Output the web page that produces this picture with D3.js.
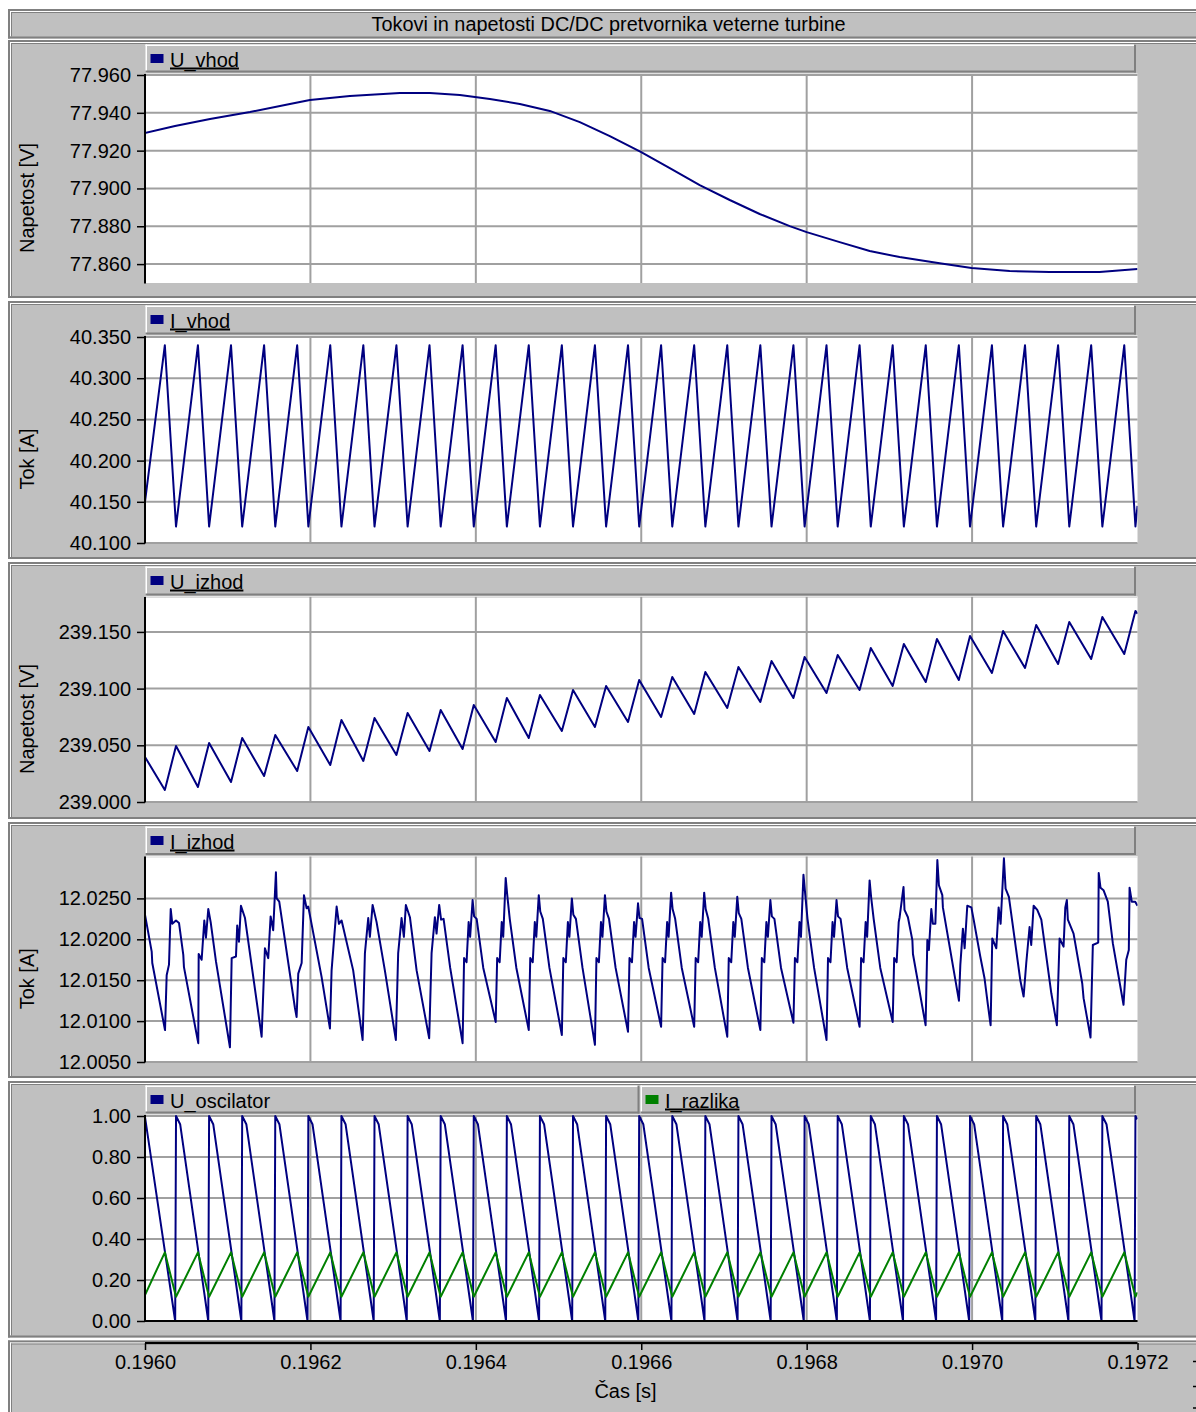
<!DOCTYPE html>
<html>
<head>
<meta charset="utf-8">
<script src="https://cdn.jsdelivr.net/npm/d3@7"></script>
<style>
  body { margin: 0; background: #ffffff; }
  svg { display: block; }
  text { font-family: "Liberation Sans", Arial, sans-serif; fill: #000; }
</style>
</head>
<body>
<svg id="chart" width="1196" height="1412"></svg>
<script>
// ---- time axis (seconds); sample times below are in microseconds after T0 ----
const T0 = 0.1960;
const timeTicks = [0.1960, 0.1962, 0.1964, 0.1966, 0.1968, 0.1970, 0.1972];

// ---- U_vhod (input voltage) ----
const uVhodUs = [0, 36.3, 78.6, 126.9, 175.2, 199.4, 247.7, 308.2, 344.4, 380.7, 417, 453.2, 489.4, 525.7, 562,
  599.4, 634.5, 670.7, 707, 743.2, 779.5, 800, 839.9, 876.2, 912.4, 960.8, 999.4, 1045.4, 1093.7, 1154.1, 1200];
const uVhodV = [77.9293, 77.9330, 77.9367, 77.9404, 77.9447, 77.9468, 77.9489, 77.9505, 77.9505, 77.9494, 77.9473,
  77.9447, 77.9410, 77.9351, 77.9277, 77.9193, 77.9108, 77.9018, 77.8939, 77.8865, 77.8801, 77.8769, 77.8716,
  77.8669, 77.8637, 77.8605, 77.8579, 77.8563, 77.8558, 77.8558, 77.8574];
const uVhodTicks = [77.86, 77.88, 77.90, 77.92, 77.94, 77.96];

// ---- switching instants shared by I_vhod, U_izhod and I_razlika ----
const switchUs = [0,
  24, 37.5, 64, 77.5, 104, 117.5, 144, 157.5, 184, 197.5,
  224, 237.5, 264, 277.5, 304, 317.5, 344, 357.5, 384, 397.5,
  424, 437.5, 464, 477.5, 504, 517.5, 544, 557.5, 584, 597.5,
  624, 637.5, 664, 677.5, 704, 717.5, 744, 757.5, 784, 797.5,
  824, 837.5, 864, 877.5, 904, 917.5, 944, 957.5, 984, 997.5,
  1024, 1037.5, 1064, 1077.5, 1104, 1117.5, 1144, 1157.5, 1184, 1197.5,
  1200];

// ---- I_vhod (input current) ----
const iVhodA = [40.150,
  40.340, 40.120, 40.340, 40.120, 40.340, 40.120, 40.340, 40.120, 40.340, 40.120,
  40.340, 40.120, 40.340, 40.120, 40.340, 40.120, 40.340, 40.120, 40.340, 40.120,
  40.340, 40.120, 40.340, 40.120, 40.340, 40.120, 40.340, 40.120, 40.340, 40.120,
  40.340, 40.120, 40.340, 40.120, 40.340, 40.120, 40.340, 40.120, 40.340, 40.120,
  40.340, 40.120, 40.340, 40.120, 40.340, 40.120, 40.340, 40.120, 40.340, 40.120,
  40.340, 40.120, 40.340, 40.120, 40.340, 40.120, 40.340, 40.120, 40.340, 40.120,
  40.145];
const iVhodTicks = [40.10, 40.15, 40.20, 40.25, 40.30, 40.35];

// ---- U_izhod (output voltage) ----
const uIzhodV = [239.0397,
  239.0106, 239.0494, 239.0132, 239.0520, 239.0176, 239.0564, 239.0229, 239.0591, 239.0273, 239.0662,
  239.0326, 239.0723, 239.0362, 239.0741, 239.0415, 239.0785, 239.0450, 239.0811, 239.0467, 239.0856,
  239.0529, 239.0917, 239.0564, 239.0944, 239.0626, 239.0988, 239.0662, 239.1023, 239.0706, 239.1076,
  239.0750, 239.1103, 239.0776, 239.1147, 239.0829, 239.1191, 239.0882, 239.1244, 239.0917, 239.1279,
  239.0961, 239.1297, 239.0988, 239.1358, 239.1023, 239.1394, 239.1058, 239.1438, 239.1076, 239.1464,
  239.1138, 239.1508, 239.1182, 239.1561, 239.1217, 239.1588, 239.1261, 239.1632, 239.1305, 239.1685,
  239.1660];
const uIzhodTicks = [239.00, 239.05, 239.10, 239.15];

// ---- I_razlika (current difference) ----
const iRazlikaA = [0.127,
  0.335, 0.118, 0.335, 0.118, 0.335, 0.118, 0.335, 0.118, 0.335, 0.118,
  0.335, 0.118, 0.335, 0.118, 0.335, 0.118, 0.335, 0.118, 0.335, 0.118,
  0.335, 0.118, 0.335, 0.118, 0.335, 0.118, 0.335, 0.118, 0.335, 0.118,
  0.335, 0.118, 0.335, 0.118, 0.335, 0.118, 0.335, 0.118, 0.335, 0.118,
  0.335, 0.118, 0.335, 0.118, 0.335, 0.118, 0.335, 0.118, 0.335, 0.118,
  0.335, 0.118, 0.335, 0.118, 0.335, 0.118, 0.335, 0.118, 0.335, 0.118,
  0.140];

// ---- I_izhod (output current), sampled vertices ----
const iIzhodUs = [
  0, 8.1, 8.8,
  24.2, 26.2, 29.0, 31.1, 33.0, 37.5, 41.1, 46.3, 47.1,
  64.4, 64.9, 68.5, 71.7, 73.7, 76.5, 79.4, 85.8,
  102.7, 104.8, 110.0, 111.5, 113.6, 116.0, 120.9,
  141.0, 145.0, 149.0, 151.9, 155.0, 158.3, 159.2, 162.3, 181.3,
  183.3, 185.3, 189.4, 192.2, 195.4, 197.4, 213.5,
  223.6, 225.6, 231.7, 234.5, 237.7, 251.7,
  263.1, 265.9, 269.9, 271.9, 275.2, 280.0, 290.0,
  303.3, 306.1, 310.2, 313.0, 315.4, 320.3, 328.4,
  343.6, 346.5, 350.5, 352.5, 355.7, 358, 361, 369,
  384, 385.8, 388.8, 391.3, 393.1, 396.1, 397.9, 401, 409,
  424, 425.8, 428.8, 431.3, 433.1, 436.1, 437.9, 441, 449,
  464, 465.8, 468.8, 471.3, 473.1, 476.1, 477.9, 481, 489,
  504, 505.8, 508.8, 511.3, 513.1, 516.1, 517.9, 521, 529,
  544, 545.8, 548.8, 551.3, 553.1, 556.1, 557.9, 561, 569,
  584, 585.8, 588.8, 591.3, 593.1, 596.1, 597.9, 601, 609,
  624, 625.8, 628.8, 631.3, 633.1, 636.1, 637.9, 641, 649,
  664, 665.8, 668.8, 671.3, 673.1, 676.1, 677.9, 681, 689,
  704, 705.8, 708.8, 711.3, 713.1, 716.1, 717.9, 721, 729,
  744, 745.8, 748.8, 751.3, 753.1, 756.1, 757.9, 761, 769,
  784, 785.8, 788.8, 791.3, 793.1, 796.1, 797.9, 801, 809,
  824, 825.8, 828.8, 831.3, 833.1, 836.1, 837.9, 841, 849,
  864, 865.8, 868.8, 871.3, 873.1, 876.1, 877.9, 881, 889,
  904, 905.8, 908.8, 911.3, 912.4, 917.1, 918.3, 922.4, 927.8, 928.5,
  943.8, 945.9, 947.8, 950.7, 952.6, 955.6, 958.0, 959.9, 964.0, 964.7,
  984.1, 985.8, 988.9, 991.0, 994.2, 999.1, 1001.9, 1009.9, 1015.1, 1019.1,
  1022.4, 1024.4, 1029.3, 1032.1, 1034.5, 1038.5, 1040.5, 1044.5, 1058.3,
  1062.3, 1065.5, 1069.5, 1071.5, 1074.4, 1078.8, 1083.7, 1095.8,
  1102.5, 1105.8, 1110.6, 1112.7, 1114.6, 1115.8, 1122.7, 1133.2, 1134.8,
  1143.2, 1146.0, 1152.5, 1153.1, 1155.3, 1158.9, 1164.1, 1170.2,
  1183.1, 1186.4, 1189.5, 1190.4, 1193.1, 1197.2, 1200];
const iIzhodA = [
  12.0230, 12.0185, 12.0171,
  12.0089, 12.0156, 12.0169, 12.0237, 12.0219, 12.0223, 12.0220, 12.0181, 12.0166,
  12.0073, 12.0182, 12.0175, 12.0223, 12.0202, 12.0237, 12.0221, 12.0173,
  12.0068, 12.0177, 12.0179, 12.0217, 12.0197, 12.0241, 12.0226,
  12.0081, 12.0189, 12.0177, 12.0228, 12.0211, 12.0282, 12.0250, 12.0246, 12.0116,
  12.0105, 12.0158, 12.0171, 12.0254, 12.0238, 12.0240, 12.0154,
  12.0091, 12.0162, 12.0240, 12.0219, 12.0223, 12.0162,
  12.0077, 12.0183, 12.0226, 12.0203, 12.0242, 12.0221, 12.0162,
  12.0077, 12.0183, 12.0226, 12.0203, 12.0242, 12.0227, 12.0162,
  12.0079, 12.0183, 12.0227, 12.0207, 12.0242, 12.0224, 12.0225, 12.0165,
  12.0073, 12.0177, 12.0172, 12.0221, 12.0203, 12.0248, 12.0228, 12.0225, 12.0165,
  12.0099, 12.0177, 12.0172, 12.0221, 12.0203, 12.0275, 12.0255, 12.0225, 12.0165,
  12.0089, 12.0177, 12.0172, 12.0221, 12.0203, 12.0254, 12.0234, 12.0225, 12.0165,
  12.0083, 12.0177, 12.0172, 12.0221, 12.0203, 12.0250, 12.0230, 12.0225, 12.0165,
  12.0071, 12.0177, 12.0172, 12.0221, 12.0203, 12.0254, 12.0234, 12.0225, 12.0165,
  12.0087, 12.0177, 12.0172, 12.0221, 12.0203, 12.0244, 12.0226, 12.0225, 12.0165,
  12.0093, 12.0177, 12.0172, 12.0221, 12.0203, 12.0257, 12.0237, 12.0225, 12.0165,
  12.0093, 12.0177, 12.0172, 12.0221, 12.0203, 12.0257, 12.0237, 12.0225, 12.0165,
  12.0081, 12.0177, 12.0172, 12.0221, 12.0203, 12.0252, 12.0232, 12.0225, 12.0165,
  12.0089, 12.0177, 12.0172, 12.0221, 12.0203, 12.0248, 12.0228, 12.0225, 12.0165,
  12.0098, 12.0177, 12.0172, 12.0221, 12.0203, 12.0279, 12.0259, 12.0225, 12.0165,
  12.0077, 12.0177, 12.0172, 12.0221, 12.0203, 12.0248, 12.0228, 12.0225, 12.0165,
  12.0093, 12.0177, 12.0172, 12.0221, 12.0203, 12.0272, 12.0252, 12.0225, 12.0165,
  12.0099, 12.0177, 12.0172, 12.0221, 12.0227, 12.0264, 12.0236, 12.0227, 12.0199, 12.0182,
  12.0095, 12.0199, 12.0187, 12.0237, 12.0219, 12.0219, 12.0297, 12.0266, 12.0254, 12.0239,
  12.0125, 12.0169, 12.0213, 12.0189, 12.0241, 12.0239, 12.0224, 12.0179, 12.0152, 12.0120,
  12.0095, 12.0201, 12.0189, 12.0239, 12.0219, 12.0299, 12.0262, 12.0252, 12.0150,
  12.0130, 12.0171, 12.0215, 12.0193, 12.0241, 12.0236, 12.0224, 12.0134,
  12.0095, 12.0201, 12.0191, 12.0239, 12.0248, 12.0224, 12.0207, 12.0146, 12.0128,
  12.0080, 12.0193, 12.0196, 12.0281, 12.0263, 12.0260, 12.0246, 12.0195,
  12.0120, 12.0175, 12.0187, 12.0263, 12.0246, 12.0246, 12.0241];
const iIzhodTicks = [12.005, 12.010, 12.015, 12.020, 12.025];

// ---- U_oscilator (ramp: reset, short shallow start, then linear fall) ----
const oscUs = [0, 36.5,
  37.5, 42.5, 76.5,   77.5, 82.5, 116.5,   117.5, 122.5, 156.5,   157.5, 162.5, 196.5,
  197.5, 202.5, 236.5,   237.5, 242.5, 276.5,   277.5, 282.5, 316.5,   317.5, 322.5, 356.5,
  357.5, 362.5, 396.5,   397.5, 402.5, 436.5,   437.5, 442.5, 476.5,   477.5, 482.5, 516.5,
  517.5, 522.5, 556.5,   557.5, 562.5, 596.5,   597.5, 602.5, 636.5,   637.5, 642.5, 676.5,
  677.5, 682.5, 716.5,   717.5, 722.5, 756.5,   757.5, 762.5, 796.5,   797.5, 802.5, 836.5,
  837.5, 842.5, 876.5,   877.5, 882.5, 916.5,   917.5, 922.5, 956.5,   957.5, 962.5, 996.5,
  997.5, 1002.5, 1036.5,   1037.5, 1042.5, 1076.5,   1077.5, 1082.5, 1116.5,   1117.5, 1122.5, 1156.5,
  1157.5, 1162.5, 1196.5,
  1197.5, 1200];
const oscV = [0.995, 0,
  1, 0.96, 0,   1, 0.96, 0,   1, 0.96, 0,   1, 0.96, 0,
  1, 0.96, 0,   1, 0.96, 0,   1, 0.96, 0,   1, 0.96, 0,
  1, 0.96, 0,   1, 0.96, 0,   1, 0.96, 0,   1, 0.96, 0,
  1, 0.96, 0,   1, 0.96, 0,   1, 0.96, 0,   1, 0.96, 0,
  1, 0.96, 0,   1, 0.96, 0,   1, 0.96, 0,   1, 0.96, 0,
  1, 0.96, 0,   1, 0.96, 0,   1, 0.96, 0,   1, 0.96, 0,
  1, 0.96, 0,   1, 0.96, 0,   1, 0.96, 0,   1, 0.96, 0,
  1, 0.96, 0,
  1, 0.985];
const oscTicks = [0, 0.2, 0.4, 0.6, 0.8, 1.0];

const titleText = "Tokovi in napetosti DC/DC pretvornika veterne turbine";
const xTitle = "Čas [s]";

// ---------------------------------------------------------------------------
const NAVY = "#000080", GREEN = "#008000";
const FACE = "#c0c0c0", SHADOW = "#808080", GRID = "#a0a0a0";

const svg = d3.select("#chart");
const x = d3.scaleLinear().domain([0.1960, 0.1972]).range([145, 1137.5]);
const toPts = (us, vals) => us.map((u, i) => [T0 + u * 1e-6, vals[i]]);

function hline(g, x1, x2, y, color, w) {
  g.append("line").attr("x1", x1).attr("x2", x2).attr("y1", y).attr("y2", y)
    .attr("stroke", color).attr("stroke-width", w);
}
function vline(g, xx, y1, y2, color, w) {
  g.append("line").attr("x1", xx).attr("x2", xx).attr("y1", y1).attr("y2", y2)
    .attr("stroke", color).attr("stroke-width", w);
}

// bevelled grey frame of one strip
function frame(y0, y1) {
  const g = svg.append("g");
  g.append("rect").attr("x", 8).attr("y", y0).attr("width", 1200).attr("height", y1 - y0).attr("fill", FACE);
  hline(g, 8, 1200, y0 + 1, SHADOW, 2);
  vline(g, 9, y0, y1, SHADOW, 2);
  hline(g, 10, 1200, y0 + 2.5, "#ffffff", 1);
  vline(g, 10.5, y0 + 2, y1 - 2, "#ffffff", 1);
  hline(g, 11, 1200, y0 + 3.5, SHADOW, 1);
  vline(g, 11.5, y0 + 3, y1 - 2, SHADOW, 1);
  hline(g, 8, 1200, y1 - 1, SHADOW, 2);
  return g;
}

// raised legend bar
function legendBox(g, x0, x1, y0, y1, name, color, underline) {
  g.append("rect").attr("x", x0).attr("y", y0).attr("width", x1 - x0).attr("height", y1 - y0).attr("fill", FACE);
  hline(g, x0, x1, y0 + 0.75, "#ffffff", 1.5);
  vline(g, x0 + 0.75, y0, y1, "#ffffff", 1.5);
  hline(g, x0, x1, y1 - 1, SHADOW, 2);
  vline(g, x1 - 1, y0, y1, SHADOW, 2);
  g.append("rect").attr("x", x0 + 5).attr("y", y0 + 9.5).attr("width", 13).attr("height", 9).attr("fill", color);
  g.append("text").attr("x", x0 + 24.5).attr("y", y0 + 22).attr("font-size", 20)
    .attr("text-decoration", underline ? "underline" : null).text(name);
}

// title strip
{
  const g = frame(9, 38.5);
  g.append("text").attr("x", 608.5).attr("y", 31.3).attr("text-anchor", "middle").attr("font-size", 20)
    .attr("textLength", 474).attr("lengthAdjust", "spacingAndGlyphs").text(titleText);
}

const panels = [
  { y0: 40, y1: 298, top: 75, bottom: 283, domain: [77.85, 77.96], ticks: uVhodTicks, fmt: ".3f", label: "Napetost [V]",
    legends: [{ x0: 145.5, x1: 1136, name: "U_vhod", color: NAVY, ul: true }],
    series: [{ pts: toPts(uVhodUs, uVhodV), color: NAVY }] },
  { y0: 301, y1: 559, top: 337, bottom: 543, domain: [40.10, 40.35], ticks: iVhodTicks, fmt: ".3f", label: "Tok [A]",
    legends: [{ x0: 145.5, x1: 1136, name: "I_vhod", color: NAVY, ul: true }],
    series: [{ pts: toPts(switchUs, iVhodA), color: NAVY }] },
  { y0: 562, y1: 819, top: 597.9, bottom: 802, domain: [239.0, 239.18], ticks: uIzhodTicks, fmt: ".3f", label: "Napetost [V]",
    legends: [{ x0: 145.5, x1: 1136, name: "U_izhod", color: NAVY, ul: true }],
    series: [{ pts: toPts(switchUs, uIzhodV), color: NAVY }] },
  { y0: 822, y1: 1078, top: 857.5, bottom: 1062, domain: [12.005, 12.030], ticks: iIzhodTicks, fmt: ".4f", label: "Tok [A]",
    legends: [{ x0: 145.5, x1: 1136, name: "I_izhod", color: NAVY, ul: true }],
    series: [{ pts: toPts(iIzhodUs, iIzhodA), color: NAVY }] },
  { y0: 1081, y1: 1337.5, top: 1116, bottom: 1321, domain: [0, 1], ticks: oscTicks, fmt: ".2f", label: null, zeroAxis: true,
    legends: [{ x0: 145.5, x1: 639.5, name: "U_oscilator", color: NAVY, ul: false },
              { x0: 640.5, x1: 1136, name: "I_razlika", color: GREEN, ul: true }],
    series: [{ pts: toPts(oscUs, oscV), color: NAVY }, { pts: toPts(switchUs, iRazlikaA), color: GREEN }] }
];

panels.forEach((p, i) => {
  const g = frame(p.y0, p.y1);
  const y = d3.scaleLinear().domain(p.domain).range([p.bottom, p.top]);
  const ly0 = p.y0 + 4.5, ly1 = p.top - 2.5;
  p.legends.forEach(l => legendBox(g, l.x0, l.x1, ly0, ly1, l.name, l.color, l.ul));

  // plotting area
  g.append("rect").attr("x", 146).attr("y", p.top - 1.5).attr("width", 1137.5 - 146).attr("height", p.bottom - p.top + 1.5).attr("fill", "#ffffff");
  hline(g, 146, 1137.5, p.top - 0.5, "#d8d8d8", 1);

  // grid
  const grid = g.append("g");
  p.ticks.forEach(t => hline(grid, 146, 1137.5, y(t), GRID, 2));
  timeTicks.slice(1, -1).forEach(t => vline(grid, x(t), p.top - 1, p.bottom, GRID, 2));

  // series
  const clipId = "clip" + i;
  g.append("clipPath").attr("id", clipId).append("rect")
    .attr("x", 146).attr("y", p.top - 2).attr("width", 1137.5 - 146).attr("height", p.bottom - p.top + 3);
  const line = d3.line().x(d => x(d[0])).y(d => y(d[1]));
  p.series.forEach(s => {
    g.append("path").attr("clip-path", `url(#${clipId})`).attr("d", line(s.pts))
      .attr("fill", "none").attr("stroke", s.color).attr("stroke-width", 2).attr("stroke-linejoin", "round");
  });

  if (p.zeroAxis) hline(g, 144, 1137.5, y(0), "#000", 2);

  // value axis
  const ax = g.append("g").attr("transform", "translate(145,0)")
    .call(d3.axisLeft(y).tickValues(p.ticks).tickFormat(d3.format(p.fmt)).tickSize(8).tickPadding(6));
  ax.select(".domain").attr("d", `M0,${p.top - 1}V${p.bottom + 0.5}`).attr("stroke", "#000").attr("stroke-width", 2);
  ax.selectAll(".tick line").attr("stroke", "#000").attr("stroke-width", 1.5);
  ax.selectAll(".tick text").attr("font-size", 20).attr("font-family", "Liberation Sans, Arial, sans-serif").attr("fill", "#000");

  if (p.label) {
    g.append("text").attr("transform", `translate(34,${(p.top + p.bottom) / 2 + 19}) rotate(-90)`)
      .attr("text-anchor", "middle").attr("font-size", 20).text(p.label);
  }
});

// time axis strip
{
  const g = frame(1340.5, 1420);
  const ax = g.append("g").attr("transform", "translate(0,1343)")
    .call(d3.axisBottom(x).tickValues(timeTicks).tickFormat(d3.format(".4f")).tickSize(7).tickPadding(5));
  ax.select(".domain").attr("d", "M145,0H1137.5").attr("stroke", "#000").attr("stroke-width", 2);
  ax.selectAll(".tick line").attr("stroke", "#000").attr("stroke-width", 1.5);
  ax.selectAll(".tick text").attr("font-size", 20).attr("font-family", "Liberation Sans, Arial, sans-serif").attr("fill", "#000");
  g.append("text").attr("x", 625.5).attr("y", 1398).attr("text-anchor", "middle").attr("font-size", 20).text(xTitle);
  // clipped edge marks of the next strip element at the right border
  [1361.5, 1386.5, 1408].forEach(yy => hline(g, 1193, 1196, yy, "#000", 1.5));
}
</script>
</body>
</html>
